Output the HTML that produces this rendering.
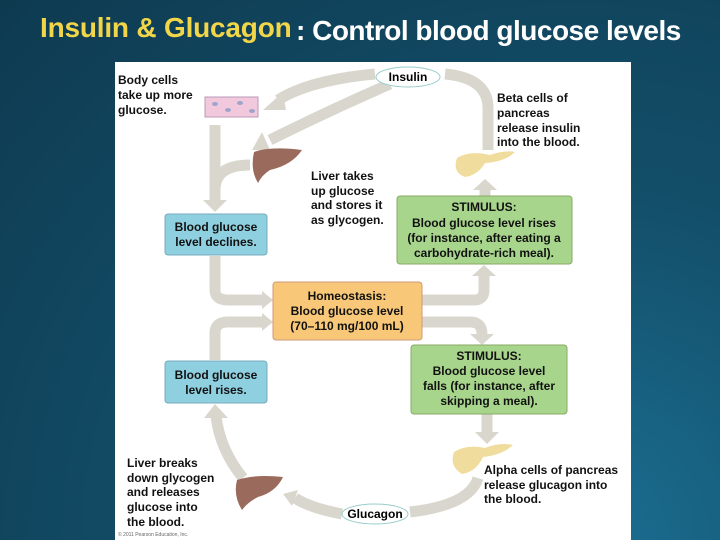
<!DOCTYPE html>
<html><head><meta charset="utf-8"><style>
html,body{margin:0;padding:0;width:720px;height:540px;overflow:hidden;background:radial-gradient(ellipse at 80% 100%,#1b6f93 0%,#134f6a 45%,#0e3a50 100%);font-family:"Liberation Sans",sans-serif}
.t{position:absolute;top:12px;font-family:"Liberation Sans",sans-serif;font-size:27px;font-weight:bold;letter-spacing:-0.8px;white-space:nowrap}
</style></head><body>
<div class="t" style="left:40px;color:#f2d64a;font-size:28px;letter-spacing:-0.2px">Insulin &amp; Glucagon</div>
<div class="t" style="left:296px;top:15px;color:#fff;font-size:28px;letter-spacing:-0.5px">: Control blood glucose levels</div>
<svg width="720" height="540" style="position:absolute;left:0;top:0" font-family="Liberation Sans, sans-serif" font-weight="bold" font-size="12">
<rect x="115" y="62" width="516" height="478" fill="#fff"/>
<g fill="none" stroke="#d9d7cd" stroke-width="11">
<path d="M215 125 V200"/>
<path d="M250 165 Q215 165 215 190"/>
<path d="M215 256 V290 Q215 300 228 300 H262"/>
<path d="M215 360 V333 Q215 322 228 322 H262"/>
<path d="M422 300 H474 Q484 300 484 290 V275"/>
<path d="M485 196 V188"/>
<path d="M488 150 V108 Q488 78 445 74"/>
<path d="M375 74 Q310 80 278 100"/>
<path d="M390 84 Q330 110 270 140"/>
<path d="M422 322 H470 Q482 322 482 334"/>
<path d="M487 414 V433"/>
<path d="M478 478 Q470 505 410 512"/>
<path d="M342 514 Q310 508 295 498"/>
<path d="M243 478 Q220 450 216 416"/>
</g>
<g fill="#d9d7cd">
<polygon points="203,200 227,200 215,212"/>
<polygon points="262,291 262,309 273,300"/>
<polygon points="262,313 262,331 273,322"/>
<polygon points="472,276 496,276 484,265"/>
<polygon points="473,190 497,190 485,179"/>
<polygon points="283,92 286,110 263,110"/>
<polygon points="262,132 270,150 252,150"/>
<polygon points="470,334 494,334 482,345"/>
<polygon points="475,432 499,432 487,444"/>
<polygon points="298,490 292,506 283,494"/>
<polygon points="204,418 228,418 215,404"/>
</g>
<rect x="205" y="97" width="53" height="20" fill="#f2c8dc" stroke="#b89ab8"/>
<g fill="#9fa4cc"><ellipse cx="215" cy="104" rx="3" ry="2"/><ellipse cx="228" cy="110" rx="3" ry="2"/><ellipse cx="240" cy="103" rx="3" ry="2"/><ellipse cx="252" cy="111" rx="3" ry="2"/></g>
<ellipse cx="408" cy="77" rx="32" ry="10" fill="#fff" stroke="#9cc" />
<text x="408" y="81" text-anchor="middle">Insulin</text>
<ellipse cx="375" cy="514" rx="33" ry="10" fill="#fff" stroke="#9cc"/>
<text x="375" y="518" text-anchor="middle">Glucagon</text>
<path d="M254 152 Q270 146 302 150 Q292 165 270 170 Q262 175 258 183 Q250 170 254 152Z" fill="#9a6b5c"/>
<path d="M237 480 Q255 474 283 477 Q276 492 258 497 Q248 502 242 510 Q233 496 237 480Z" fill="#9a6b5c"/>
<path d="M457 158 Q470 150 490 155 Q505 150 515 152 Q505 162 485 163 Q478 175 465 177 Q452 172 457 158Z" fill="#f0dc9c"/>
<path d="M454 452 Q467 444 485 448 Q500 442 513 445 Q502 455 483 457 Q476 472 462 474 Q449 466 454 452Z" fill="#f0dc9c"/>
<rect x="165" y="214" width="102" height="41" rx="3" fill="#8fd0e0" stroke="#7ab"/>
<rect x="165" y="361" width="102" height="42" rx="3" fill="#8fd0e0" stroke="#7ab"/>
<rect x="397" y="196" width="175" height="68" rx="3" fill="#a8d58c" stroke="#8a6"/>
<rect x="411" y="345" width="156" height="69" rx="3" fill="#a8d58c" stroke="#8a6"/>
<rect x="273" y="282" width="149" height="58" rx="3" fill="#f8c878" stroke="#c97"/>
<g fill="#111">
<text x="118" y="84">Body cells</text><text x="118" y="99">take up more</text><text x="118" y="114">glucose.</text>
<text x="497" y="102">Beta cells of</text><text x="497" y="117">pancreas</text><text x="497" y="132">release insulin</text><text x="497" y="146">into the blood.</text>
<text x="311" y="180">Liver takes</text><text x="311" y="195">up glucose</text><text x="311" y="209">and stores it</text><text x="311" y="224">as glycogen.</text>
<text x="216" y="231" text-anchor="middle">Blood glucose</text><text x="216" y="246" text-anchor="middle">level declines.</text>
<text x="484" y="211" text-anchor="middle">STIMULUS:</text><text x="484" y="227" text-anchor="middle">Blood glucose level rises</text><text x="484" y="242" text-anchor="middle">(for instance, after eating a</text><text x="484" y="257" text-anchor="middle">carbohydrate-rich meal).</text>
<text x="347" y="300" text-anchor="middle">Homeostasis:</text><text x="347" y="315" text-anchor="middle">Blood glucose level</text><text x="347" y="330" text-anchor="middle">(70–110 mg/100 mL)</text>
<text x="489" y="360" text-anchor="middle">STIMULUS:</text><text x="489" y="375" text-anchor="middle">Blood glucose level</text><text x="489" y="390" text-anchor="middle">falls (for instance, after</text><text x="489" y="405" text-anchor="middle">skipping a meal).</text>
<text x="216" y="379" text-anchor="middle">Blood glucose</text><text x="216" y="394" text-anchor="middle">level rises.</text>
<text x="484" y="474">Alpha cells of pancreas</text><text x="484" y="489">release glucagon into</text><text x="484" y="503">the blood.</text>
<text x="127" y="467">Liver breaks</text><text x="127" y="482">down glycogen</text><text x="127" y="496">and releases</text><text x="127" y="511">glucose into</text><text x="127" y="526">the blood.</text>
</g>
<text x="118" y="536" font-size="5" font-weight="normal" fill="#666">© 2011 Pearson Education, Inc.</text>
</svg>
</body></html>
